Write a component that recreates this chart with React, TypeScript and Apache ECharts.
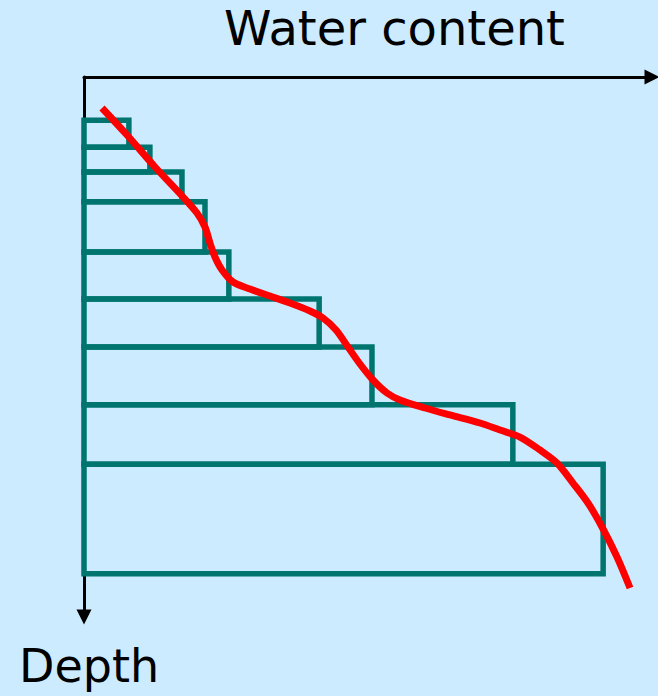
import React, { useEffect, useRef } from "react";
import * as echarts from "echarts";

// Layers: top depth, bottom depth, water content (arbitrary units)
const layerTop = [8.0, 13.0, 17.6, 23.1, 32.4, 41.1, 50.0, 60.7, 71.7];
const layerBottom = [13.0, 17.6, 23.1, 32.4, 41.1, 50.0, 60.7, 71.7, 92.0];
const layerWater = [7.9, 11.6, 17.25, 21.3, 25.5, 41.4, 50.7, 75.5, 91.4];

// Continuous water content profile (water content, depth)
const curveWater = [3.17, 7.57, 12.5, 17.43, 19.89, 21.3, 22.18, 23.06, 24.3, 26.23, 29.23, 32.75, 36.27, 39.79, 42.08, 44.37, 46.48, 48.59, 50.88, 53.35, 55.63, 60.04, 64.44, 69.72, 73.24, 76.76, 80.28, 83.27, 86.09, 88.73, 91.2, 93.84, 96.13];
const curveDepth = [5.74, 10.74, 16.67, 22.22, 25.19, 27.78, 30.74, 33.33, 35.74, 37.96, 39.26, 40.56, 41.85, 43.33, 44.63, 46.85, 50.0, 53.15, 56.11, 58.52, 59.81, 61.3, 62.59, 64.07, 65.37, 66.67, 69.07, 71.48, 75.19, 78.89, 83.33, 88.89, 94.63];

const xTitle = "Water content";
const yTitle = "Depth";

export default function App() {
  const ref = useRef<HTMLDivElement>(null);
  useEffect(() => {
    if (!ref.current) return;
    const chart = echarts.init(ref.current, null, { renderer: "svg" });
    const layers = layerTop.map((t, i) => [layerWater[i], t, layerBottom[i]]);
    const curve = curveWater.map((w, i) => [w, curveDepth[i]]);
    chart.setOption({
      animation: false,
      backgroundColor: "#CCEBFF",
      grid: { left: 84, right: 6, top: 77, bottom: 79 },
      xAxis: {
        type: "value",
        position: "top",
        min: 0,
        max: 100,
        axisLine: {
          show: true,
          onZero: false,
          symbol: ["none", "triangle"],
          symbolSize: [15, 15],
          lineStyle: { color: "#000", width: 3 },
        },
        axisTick: { show: false },
        axisLabel: { show: false },
        splitLine: { show: false },
      },
      yAxis: {
        type: "value",
        inverse: true,
        min: 0,
        max: 100,
        axisLine: {
          show: true,
          onZero: false,
          symbol: ["triangle", "none"],
          symbolSize: [15, 15],
          lineStyle: { color: "#000", width: 3 },
        },
        axisTick: { show: false },
        axisLabel: { show: false },
        splitLine: { show: false },
      },
      graphic: [
        {
          type: "text",
          left: 224,
          top: 4,
          style: { text: xTitle, font: '48px "DejaVu Sans"', fill: "#000" },
        },
        {
          type: "text",
          left: 19,
          top: 643,
          style: { text: yTitle, font: '46px "DejaVu Sans"', fill: "#000" },
        },
      ],
      series: [
        {
          type: "custom",
          data: layers,
          renderItem: (params: any, api: any) => {
            const p0 = api.coord([0, api.value(1)]);
            const p1 = api.coord([api.value(0), api.value(2)]);
            return {
              type: "rect",
              shape: { x: p0[0], y: p0[1], width: p1[0] - p0[0], height: p1[1] - p0[1] },
              style: { fill: "none", stroke: "#007570", lineWidth: 5.5 },
            };
          },
          z: 2,
        },
        {
          type: "line",
          data: curve,
          smooth: 0.3,
          showSymbol: false,
          symbol: "none",
          lineStyle: { color: "#FF0000", width: 7, cap: "butt" },
          z: 3,
        },
      ],
    });
    return () => chart.dispose();
  }, []);
  return (
    <div
      ref={ref}
      style={{ position: "fixed", left: 0, top: 0, width: 658, height: 696 }}
    />
  );
}
